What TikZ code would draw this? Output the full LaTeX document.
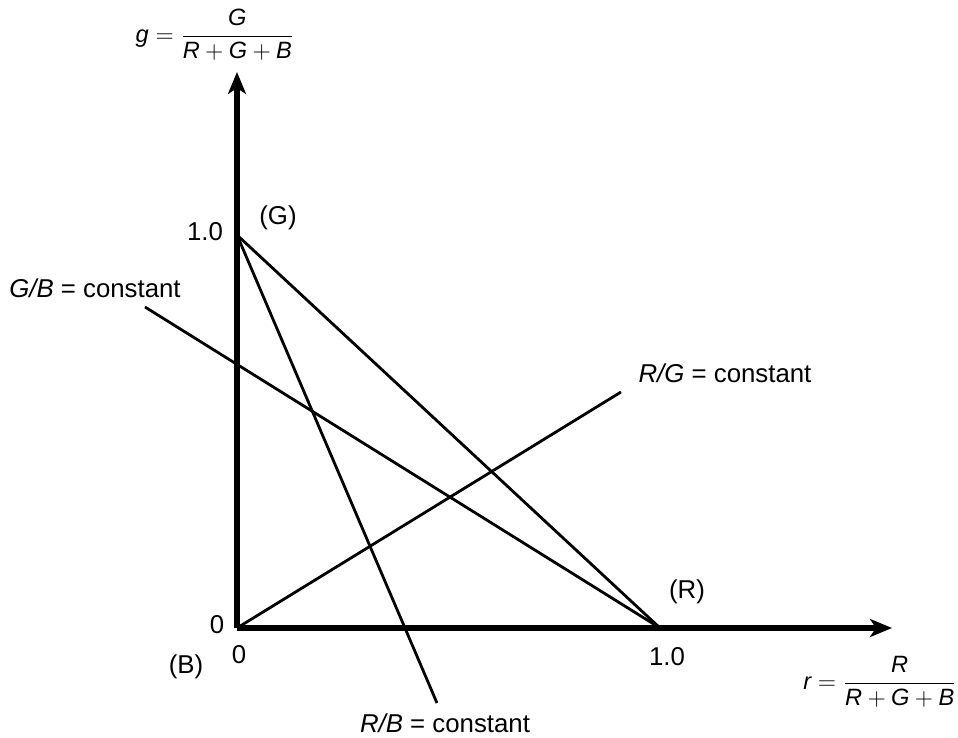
\documentclass[tikz,border=0pt]{standalone}
\usepackage{amsmath}
\usepackage{fontspec}
\setmainfont{Liberation Sans}
\usetikzlibrary{arrows.meta}
\begin{document}
\begin{tikzpicture}[x=0.5pt,y=-0.5pt,
  axis/.style={line width=2.8pt,-{Stealth[length=11pt,width=9pt,inset=3pt]}},
  thin/.style={line width=1.4pt},
  lbl/.style={font=\fontsize{12.9}{15}\selectfont,inner sep=0pt},
  frm/.style={font=\fontsize{11.8}{14}\selectfont,inner sep=0pt}]
\useasboundingbox (0,0) rectangle (958,738);
\coordinate (O) at (237,628);
\coordinate (G) at (237,235);
\coordinate (R) at (660,628);
\coordinate (ytip) at (237,72);
\coordinate (xtip) at (892,628);
\coordinate (gbs) at (145,307);
\coordinate (rge) at (621,392);
\coordinate (rbe) at (437,703);
\draw[thin] (G) -- (R);
\draw[thin] (gbs) -- (R);
\draw[thin] (O) -- (rge);
\draw[thin] (G) -- (rbe);
\draw[axis] (O) -- (ytip);
\draw[axis] (O) -- (xtip);
\node[lbl] (l10y) at (205,232) {1.0};
\node[lbl] (lG) at (278,218) {(G)};
\node[lbl] (l0y) at (217,625) {0};
\node[lbl] (l0x) at (239,655) {0};
\node[lbl] (lB) at (186,667) {(B)};
\node[lbl] (l10x) at (667,657) {1.0};
\node[lbl] (lR) at (687,592) {(R)};
\node[lbl] (lRB) at (445,723) {\textit{R/B} = constant};
\node[lbl] (lRG) at (725,373) {\textit{R/G} = constant};
\node[lbl] (lGB) at (95,288) {\textit{G/B} = constant};
\node[frm] (lg) at (215,35) {$\text{\itshape g} = \dfrac{\text{\itshape G}}{\text{\itshape R} + \text{\itshape G} + \text{\itshape B}}$};
\node[frm] (lr) at (880,682) {$\text{\itshape r} = \dfrac{\text{\itshape R}}{\text{\itshape R} + \text{\itshape G} + \text{\itshape B}}$};
\end{tikzpicture}
\end{document}
